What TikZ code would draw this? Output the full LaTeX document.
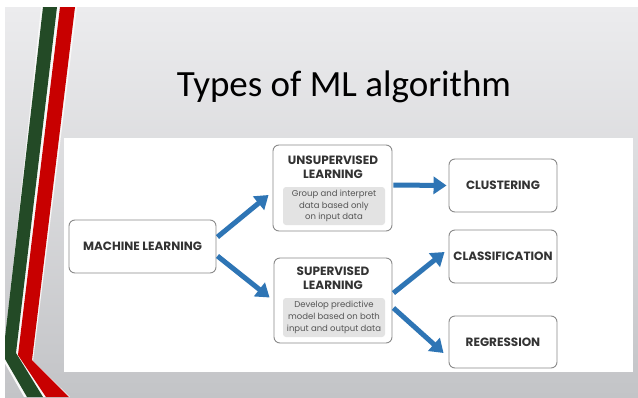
\documentclass[tikz,border=0pt]{standalone}
\usepackage{fontspec}
\setmainfont{Carlito}
\newfontfamily\boxfont{Poppins}
\usetikzlibrary{arrows.meta,calc}
\definecolor{arrowblue}{HTML}{2E75B5}
\definecolor{boxborder}{HTML}{8A8A8A}
\definecolor{boxtext}{HTML}{333333}
\definecolor{innerfill}{HTML}{E3E3E3}
\definecolor{innertext}{HTML}{555555}
\definecolor{stripegreen}{HTML}{234A26}
\definecolor{stripered}{HTML}{C80000}
\definecolor{bgtop}{HTML}{ECECEE}
\definecolor{bgbottom}{HTML}{C3C4C7}
\tikzset{
  box/.style={draw=boxborder, line width=0.9pt, rounded corners=6pt, fill=white, inner sep=0pt},
  boxlabel/.style={font=\boxfont\bfseries\fontsize{12}{14}\selectfont, text=boxtext, align=center, inner sep=0pt},
  innerbox/.style={fill=innerfill, rounded corners=3pt, inner sep=0pt},
  innerlabel/.style={font=\boxfont\fontsize{8.5}{11.8}\selectfont, text=innertext, align=center, inner sep=0pt},
  flow/.style={draw=arrowblue, line width=5pt, -{Triangle[length=13pt,width=17pt]}},
}
\begin{document}
\begin{tikzpicture}[x=1pt,y=-1pt]
\useasboundingbox (0,0) rectangle (638,397);
\fill[white] (0,0) rectangle (638,397);
\shade[top color=bgtop, bottom color=bgbottom] (5,7) rectangle (638,397);
% stripes
\begin{scope}
\clip (5,7) rectangle (638,397);
\fill[white!95!gray] (41,7) -- (77,7) -- (33,361) -- (70,397) -- (24,397) -- (3,360) -- cycle;
\fill[stripegreen] (43,7) -- (57,7) -- (16,353) -- (43,397) -- (27,397) -- (5,359) -- (3,355) -- cycle;
\fill[stripered] (60,7) -- (75,7) -- (32,360) -- (69,397) -- (46,397) -- (18,355) -- cycle;
\end{scope}
% title
\node[font=\fontsize{37}{40}\selectfont, text=black, inner sep=0pt] (title) at (344,87) {Types of ML algorithm};
% panel
\fill[white] (64,138) rectangle (633,372);
% nodes
\node[box, minimum width=147pt, minimum height=53pt] (ml) at (142.5,246.5) {};
\node[boxlabel] (mlT) at (ml.center) {MACHINE LEARNING};
\node[box, minimum width=119pt, minimum height=86pt] (unsup) at (332.5,188) {};
\node[boxlabel] (unsupT) at (333,167.5) {UNSUPERVISED\\LEARNING};
\node[innerbox, minimum width=102pt, minimum height=38pt] (unsupI) at (334,206) {};
\node[innerlabel] (unsupD) at (unsupI.center) {Group and interpret\\data based only\\on input data};
\node[box, minimum width=118pt, minimum height=85pt] (sup) at (333,300.5) {};
\node[boxlabel] (supT) at (333,278) {SUPERVISED\\LEARNING};
\node[innerbox, minimum width=102pt, minimum height=39pt] (supI) at (334,317.5) {};
\node[innerlabel] (supD) at (supI.center) {Develop predictive\\model based on both\\input and output data};
\node[box, minimum width=108pt, minimum height=53pt] (clust) at (503,185.5) {};
\node[boxlabel] (clustT) at (clust.center) {CLUSTERING};
\node[box, minimum width=108pt, minimum height=53pt] (class) at (503,256.5) {};
\node[boxlabel] (classT) at (class.center) {CLASSIFICATION};
\node[box, minimum width=108pt, minimum height=52pt] (reg) at (503,342) {};
\node[boxlabel] (regT) at (reg.center) {REGRESSION};
% arrows
\draw[flow] ($(ml.east)+(1,-9.5)$) -- ($(unsup.west)+(-4,7)$);
\draw[flow] ($(ml.east)+(1,9.5)$) -- ($(sup.west)+(-4,-3)$);
\draw[flow] ($(unsup.east)+(1,-3)$) -- ($(clust.west)+(-2,0)$);
\draw[flow] ($(sup.east)+(1,-7.5)$) -- ($(class.west)+(-4,-4.5)$);
\draw[flow] ($(sup.east)+(1,7.5)$) -- ($(reg.west)+(-5,11)$);
\end{tikzpicture}
\end{document}
